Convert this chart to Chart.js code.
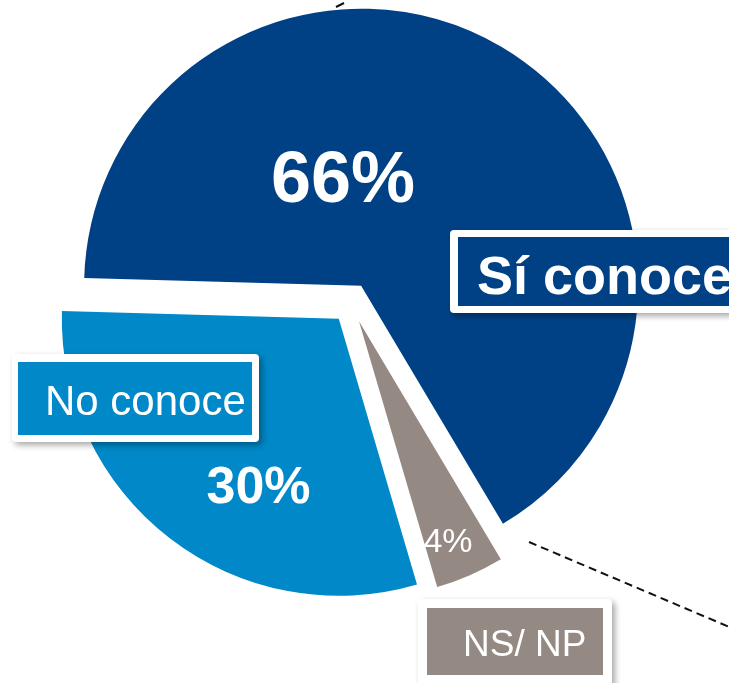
<!DOCTYPE html>
<html>
<head>
<meta charset="utf-8">
<script src="https://cdn.jsdelivr.net/npm/chart.js@4"></script>
<style>
  html, body { margin: 0; padding: 0; background: #ffffff; }
  #wrap { width: 729px; height: 683px; position: relative; }
</style>
</head>
<body>
<div id="wrap"><canvas id="c" width="729" height="683"></canvas></div>
<script>
// ---- data ----
const CATEGORIES = ['Sí conoce', 'NS/ NP', 'No conoce'];
const VALUES = [66, 4, 30];
const COLORS = ['#004185', '#958984', '#0088C8'];

const EXPLODE = 20;
const FONT = '"Liberation Sans", Arial, sans-serif';

// per-slice label styling (positions are layout only)
const PCT_STYLE = [
  { x: 343, y: 202, size: 72, weight: 'bold' },
  { x: 448, y: 552, size: 34, weight: 'normal' },
  { x: 258.5, y: 503, size: 52, weight: 'bold' }
];
const BOX_STYLE = [
  { ox: 450, oy: 230, ow: 300, oh: 83, ix: 458, iy: 237, iw: 290, ih: 69, tx: 477, ty: 294, size: 54, weight: 'bold' },
  { ox: 418, oy: 599, ow: 194, oh: 95, ix: 427, iy: 608, iw: 176, ih: 67, tx: 463, ty: 656, size: 37, weight: 'normal' },
  { ox: 12, oy: 354, ow: 247, oh: 88, ix: 18, iy: 362, iw: 234, ih: 73, tx: 45, ty: 415, size: 42, weight: 'normal' }
];

const explodePlugin = {
  id: 'explode',
  afterUpdate(chart) {
    chart.getDatasetMeta(0).data.forEach(arc => {
      const mid = (arc.startAngle + arc.endAngle) / 2;
      arc.x += Math.cos(mid) * EXPLODE;
      arc.y += Math.sin(mid) * EXPLODE;
    });
  }
};

function roundRect(ctx, x, y, w, h, r) {
  ctx.beginPath();
  ctx.moveTo(x + r, y);
  ctx.lineTo(x + w - r, y);
  ctx.quadraticCurveTo(x + w, y, x + w, y + r);
  ctx.lineTo(x + w, y + h - r);
  ctx.quadraticCurveTo(x + w, y + h, x + w - r, y + h);
  ctx.lineTo(x + r, y + h);
  ctx.quadraticCurveTo(x, y + h, x, y + h - r);
  ctx.lineTo(x, y + r);
  ctx.quadraticCurveTo(x, y, x + r, y);
  ctx.closePath();
}

const labelPlugin = {
  id: 'labels',
  afterDraw(chart) {
    const ctx = chart.ctx;
    ctx.save();
    // percentage labels
    ctx.fillStyle = '#ffffff';
    ctx.textAlign = 'center';
    ctx.textBaseline = 'alphabetic';
    VALUES.forEach((v, i) => {
      const s = PCT_STYLE[i];
      ctx.font = `${s.weight} ${s.size}px ${FONT}`;
      ctx.fillText(v + '%', s.x, s.y);
    });
    // category boxes
    CATEGORIES.forEach((name, i) => {
      const b = BOX_STYLE[i];
      ctx.save();
      ctx.shadowColor = 'rgba(0,0,0,0.35)';
      ctx.shadowBlur = 6;
      ctx.shadowOffsetX = 3;
      ctx.shadowOffsetY = 3;
      ctx.fillStyle = '#ffffff';
      roundRect(ctx, b.ox, b.oy, b.ow, b.oh, 4);
      ctx.fill();
      ctx.restore();
      ctx.fillStyle = COLORS[i];
      ctx.fillRect(b.ix, b.iy, b.iw, b.ih);
      ctx.fillStyle = '#ffffff';
      ctx.textAlign = 'left';
      ctx.font = `${b.weight} ${b.size}px ${FONT}`;
      ctx.fillText(name, b.tx, b.ty);
    });
    // dashed leader lines
    ctx.strokeStyle = '#111111';
    ctx.lineWidth = 2;
    ctx.setLineDash([8, 5]);
    ctx.beginPath();
    ctx.moveTo(529, 542);
    ctx.lineTo(760, 640);
    ctx.stroke();
    ctx.setLineDash([]);
    ctx.beginPath();
    ctx.moveTo(336, 7);
    ctx.lineTo(344, 3);
    ctx.stroke();
    ctx.restore();
  }
};

new Chart(document.getElementById('c'), {
  type: 'pie',
  data: {
    labels: CATEGORIES,
    datasets: [{
      data: VALUES,
      backgroundColor: COLORS,
      borderWidth: 0,
      clip: false
    }]
  },
  options: {
    responsive: false,
    animation: false,
    rotation: 271.6,
    radius: 277,
    layout: { padding: { left: 0, right: 27, top: 0, bottom: 77 } },
    plugins: {
      legend: { display: false },
      tooltip: { enabled: false }
    },
    events: []
  },
  plugins: [explodePlugin, labelPlugin]
});
</script>
</body>
</html>
